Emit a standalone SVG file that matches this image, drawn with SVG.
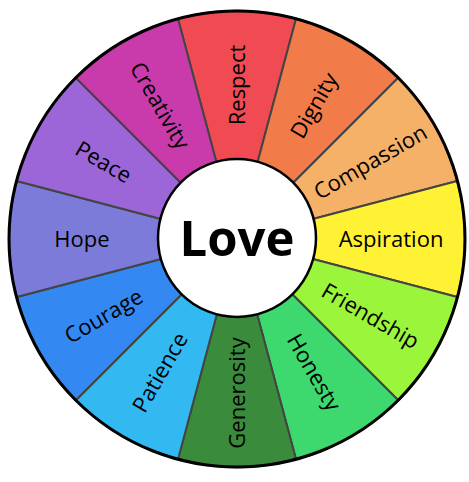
<svg xmlns="http://www.w3.org/2000/svg" width="469" height="482" viewBox="0 0 469 482">
<style>
.seg{stroke:#444;stroke-width:2;stroke-linejoin:round}
.lbl{font-family:"Open Sans","Noto Sans",sans-serif;font-size:22px;font-weight:500;fill:#000;text-anchor:middle}
.center{font-family:"Open Sans","Noto Sans",sans-serif;font-size:49px;font-weight:bold;fill:#000;text-anchor:middle}
</style>
<rect width="469" height="482" fill="#fff"/>
<g id="segments">
<g id="respect"><path class="seg" fill="#F04B52" d="M237 239 L177.99 18.77 A228 228 0 0 1 296.01 18.77 Z"/><text class="lbl" transform="translate(237 85) rotate(-90)" dy="0.35em">Respect</text></g>
<g id="dignity"><path class="seg" fill="#F27B4A" d="M237 239 L296.01 18.77 A228 228 0 0 1 398.22 77.78 Z"/><text class="lbl" transform="translate(314 105.6) rotate(-60)" dy="0.35em">Dignity</text></g>
<g id="compassion"><path class="seg" fill="#F5B168" d="M237 239 L398.22 77.78 A228 228 0 0 1 457.23 180.99 Z"/><text class="lbl" transform="translate(370.4 162) rotate(-30)" dy="0.35em">Compassion</text></g>
<g id="aspiration"><path class="seg" fill="#FFF134" d="M237 239 L457.23 180.99 A228 228 0 0 1 457.23 297.01 Z"/><text class="lbl" transform="translate(391 239)" dy="0.35em">Aspiration</text></g>
<g id="friendship"><path class="seg" fill="#9BF53A" d="M237 239 L457.23 297.01 A228 228 0 0 1 398.22 400.22 Z"/><text class="lbl" transform="translate(370.4 316) rotate(30)" dy="0.35em">Friendship</text></g>
<g id="honesty"><path class="seg" fill="#3DD96E" d="M237 239 L398.22 400.22 A228 228 0 0 1 296.01 459.23 Z"/><text class="lbl" transform="translate(314 372.4) rotate(60)" dy="0.35em">Honesty</text></g>
<g id="generosity"><path class="seg" fill="#3A8C3C" d="M237 239 L296.01 459.23 A228 228 0 0 1 177.99 459.23 Z"/><text class="lbl" transform="translate(237 393) rotate(-90)" dy="0.35em">Generosity</text></g>
<g id="patience"><path class="seg" fill="#33B9F2" d="M237 239 L177.99 459.23 A228 228 0 0 1 75.78 400.22 Z"/><text class="lbl" transform="translate(160 372.4) rotate(-60)" dy="0.35em">Patience</text></g>
<g id="courage"><path class="seg" fill="#3388F2" d="M237 239 L75.78 400.22 A228 228 0 0 1 16.77 297.01 Z"/><text class="lbl" transform="translate(103.6 316) rotate(-30)" dy="0.35em">Courage</text></g>
<g id="hope"><path class="seg" fill="#7C7BD9" d="M237 239 L16.77 297.01 A228 228 0 0 1 16.77 180.99 Z"/><text class="lbl" transform="translate(82 239)" dy="0.35em">Hope</text></g>
<g id="peace"><path class="seg" fill="#9C66D9" d="M237 239 L16.77 180.99 A228 228 0 0 1 75.78 77.78 Z"/><text class="lbl" transform="translate(103.6 162) rotate(30)" dy="0.35em">Peace</text></g>
<g id="creativity"><path class="seg" fill="#C93BAB" d="M237 239 L75.78 77.78 A228 228 0 0 1 177.99 18.77 Z"/><text class="lbl" transform="translate(160 105.6) rotate(60)" dy="0.35em">Creativity</text></g>
</g>
<circle cx="237" cy="239" r="228" fill="none" stroke="#000" stroke-width="3"/>
<g id="love"><circle cx="237" cy="238" r="79" fill="#fff" stroke="#000" stroke-width="2.5"/><text class="center" x="237" y="238" dy="0.36em">Love</text></g>
</svg>
